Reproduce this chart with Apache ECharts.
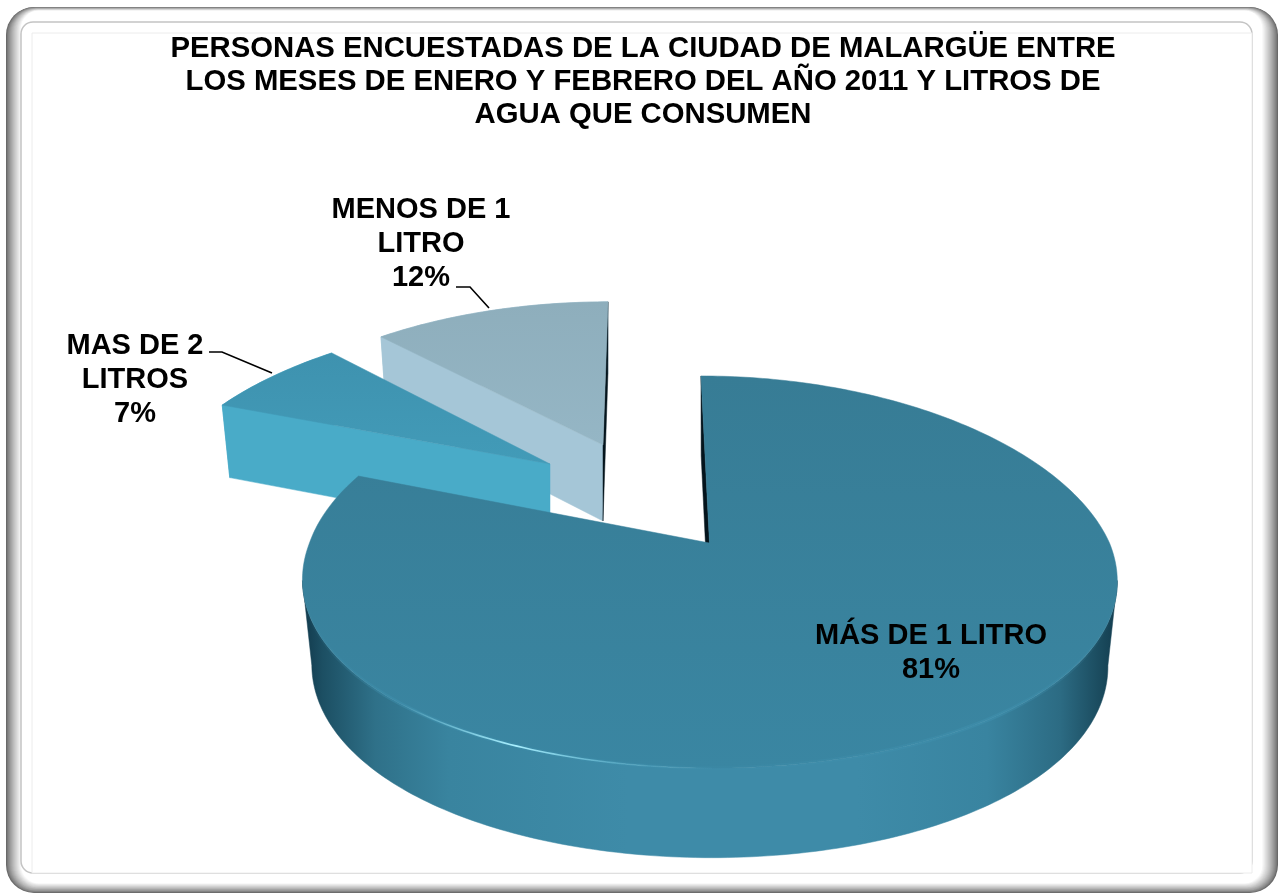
<!DOCTYPE html>
<html>
<head>
<meta charset="utf-8">
<style>html,body{margin:0;padding:0;background:#fff}#c{width:1280px;height:894px}</style>
<script src="https://cdn.jsdelivr.net/npm/echarts@6/dist/echarts.min.js"></script>
</head>
<body>
<div id="c"></div>
<script>
const chartTitle = 'PERSONAS ENCUESTADAS DE LA CIUDAD DE MALARGÜE ENTRE\nLOS MESES DE ENERO Y FEBRERO DEL AÑO 2011 Y LITROS DE\nAGUA QUE CONSUMEN';
const categories = ['MÁS DE 1 LITRO', 'MAS DE 2 LITROS', 'MENOS DE 1 LITRO'];
const categoryLines = ['MÁS DE 1 LITRO', 'MAS DE 2\nLITROS', 'MENOS DE 1\nLITRO'];
const percentages = [81, 7, 12];

// Layout and style only (no data)
const projection = {w: 400, tiltX: 0.19, tilt: 0.148, a: -111.4, b: 543};
const slices = [
  {apex: [709.5, 543], sx: 1, sy: 1, k: 0.051, kNear: 0.01, depth: 84, z: 30, label: [931, 653],
   startWall: '#04141c', endWall: null, rim: 'main',
   top: ['#377c95', '#3a86a2'], leader: null},
  {apex: [550, 464], sx: 0.9637, sy: 0.88, k: -0.122, kNear: 0, depth: 74, z: 20, label: [135, 380],
   startWall: '#49abc8', endWall: null, rim: '#49abc8',
   top: ['#3e92af', '#429bb8'], leader: [[209, 352], [222, 352], [272, 373]]},
  {apex: [603, 445], sx: 0.939, sy: 0.857, k: -0.035, kNear: 0, depth: 76, z: 10, label: [421, 244],
   startWall: '#a5c6d7', endWall: '#04141c', rim: '#a5c6d7',
   top: ['#8eaebc', '#95b6c5'], leader: [[456, 287], [470, 287], [489, 308]]}
];

const total = percentages.reduce((s, v) => s + v, 0);
const starts = percentages.reduce((acc, v, i) => { acc.push(i ? acc[i - 1] + percentages[i - 1] : 0); return acc; }, []);

function base(theta) {
  const u = Math.sin(theta), v = Math.cos(theta);
  return [projection.w * u / (1 + projection.tiltX * v), (projection.a * v + projection.b) / (1 + projection.tilt * v) - projection.b];
}
function topPoint(s, theta) {
  const p = base(theta), y = p[1] * s.sy;
  return [s.apex[0] + p[0] * s.sx + (y < 0 ? s.k : s.kNear) * y, s.apex[1] + y];
}
function lower(s, p) {
  return [s.apex[0] + (p[0] - s.apex[0]) * 0.977, p[1] + s.depth + (p[1] - s.apex[1]) * 0.025];
}
function arc(s, a0, a1) {
  const out = [], n = Math.max(8, Math.round(Math.abs(a1 - a0) * 60));
  for (let i = 0; i <= n; i++) out.push(topPoint(s, a0 + (a1 - a0) * i / n));
  return out;
}
const grad = (x0, y0, x1, y1, stops, g) => new echarts.graphic.LinearGradient(x0, y0, x1, y1, stops.map(q => ({offset: q[0], color: q[1]})), g);
const mainSide = [[0, '#11394b'], [0.025, '#1c4f63'], [0.09, '#2f7189'], [0.18, '#39849f'], [0.4, '#3e8ba8'], [0.68, '#3e8ba8'], [0.84, '#3984a0'], [0.93, '#2c6b83'], [0.98, '#1a4a5d'], [1, '#133c4e']];

function renderSlice(params, api) {
  const i = params.dataIndex, s = slices[i], value = api.value(0);
  const a0 = starts[i] / total * 2 * Math.PI, a1 = a0 + value / total * 2 * Math.PI;
  const rim = arc(s, a0, a1), A = s.apex;
  const children = [];
  const poly = (points, fill, z) => children.push({type: 'polygon', z2: s.z + z, shape: {points},
    style: {fill, stroke: fill, lineWidth: 0.5}});
  const wall = (p, fill, z) => poly([p, lower(s, p), lower(s, A), A], fill, z);

  if (s.rim === 'main') {
    const tangent = Math.acos(-projection.tiltX);
    const front = arc(s, tangent, 2 * Math.PI - tangent);
    poly(front.concat(front.slice().reverse().map(p => lower(s, p))), grad(0, 0, 1, 0, mainSide), 3);
    wall(rim[0], s.startWall, 4);
  } else {
    poly(rim.concat(rim.slice().reverse().map(p => lower(s, p))), s.rim, 2);
    wall(rim[0], s.startWall, 3);
    if (s.endWall) wall(rim[rim.length - 1], s.endWall, 4);
  }
  poly(rim.concat([A]), grad(0, 0, 0, 1, [[0, s.top[0]], [1, s.top[1]]]), 5);
  if (s.rim === 'main') {
    const bevel = arc(s, Math.PI * 0.58, Math.PI * 1.5);
    children.push({type: 'polyline', z2: s.z + 6, shape: {points: bevel},
      style: {fill: 'none', lineWidth: 4, stroke: grad(303, 0, 1118, 0,
        [[0, 'rgba(64,146,176,0.0)'], [0.12, 'rgba(64,146,176,0.45)'], [0.5, 'rgba(64,146,176,0.1)'], [0.85, 'rgba(64,146,176,0.45)'], [1, 'rgba(64,146,176,0)']], true)}});
    const hi = arc(s, Math.PI * 1.0, Math.PI * 1.3);
    children.push({type: 'polyline', z2: s.z + 7, shape: {points: hi},
      style: {fill: 'none', lineWidth: 1.6, stroke: grad(400, 0, 720, 0,
        [[0, 'rgba(150,235,255,0)'], [0.36, 'rgba(170,240,255,1)'], [0.7, 'rgba(120,210,235,0.3)'], [1, 'rgba(120,210,235,0)']], true)}});
  }
  if (s.leader) children.push({type: 'polyline', z2: 90, shape: {points: s.leader},
    style: {fill: 'none', stroke: '#000', lineWidth: 1.6}});
  children.push({type: 'text', z2: 100, style: {
    x: s.label[0], y: s.label[1],
    text: categoryLines[i] + '\n' + value + '%',
    fill: '#000', font: 'bold 29px "Liberation Sans", Arial, sans-serif',
    align: 'center', verticalAlign: 'middle', lineHeight: 34}});
  return {type: 'group', children};
}

// Frame: stacked rounded rectangles, grey at the outer edge
const frame = [];
const bands = 15;
for (let i = 0; i <= bands; i++) {
  const t = i / bands;
  const g = Math.round(105 + 150 * Math.pow(t, 0.8));
  const x0 = 6 + i * 1.0, y0 = 7 + i * 0.25, x1 = 1278 - i * 1.05, y1 = 893 - i * 0.65;
  frame.push({type: 'rect', silent: true, shape: {x: x0, y: y0, width: x1 - x0, height: y1 - y0, r: 28 - i * 0.7},
    style: {fill: `rgb(${g},${g},${g})`}});
}
frame.push({type: 'rect', silent: true, shape: {x: 21, y: 22, width: 1231, height: 851, r: 12},
  style: {fill: '#fff', stroke: '#c4c4c4', lineWidth: 1.5}});
frame.push({type: 'rect', silent: true, shape: {x: 32, y: 33, width: 1220, height: 840, r: 0},
  style: {fill: '#fff', stroke: '#ececec', lineWidth: 1}});

const chart = echarts.init(document.getElementById('c'), null, {renderer: 'canvas'});
chart.setOption({
  animation: false,
  backgroundColor: '#ffffff',
  title: {
    text: chartTitle, left: 638, top: 27, textAlign: 'center',
    textStyle: {fontFamily: '"Liberation Sans", Arial, sans-serif', fontWeight: 'bold', fontSize: 29.3, lineHeight: 33, color: '#000'}
  },
  graphic: {elements: frame},
  series: [{
    type: 'custom', coordinateSystem: 'none', silent: true, z: 5,
    renderItem: renderSlice,
    encode: {itemName: 1},
    data: percentages.map((v, i) => [v, categories[i]])
  }]
});
</script>
</body>
</html>
